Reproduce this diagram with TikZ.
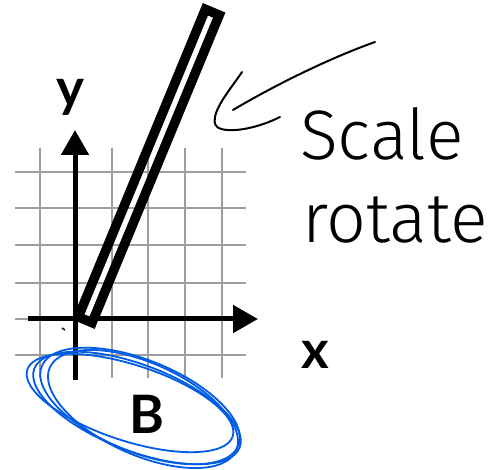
\documentclass[tikz,border=0pt]{standalone}
\usepackage{fontspec}
\usetikzlibrary{arrows.meta}
\newfontfamily\labfont{Lato}
\newfontfamily\handfont{Fira Sans Light}
\begin{document}
\begin{tikzpicture}[x=1pt,y=-1pt,
  gridline/.style={draw=black!38,line width=1.8pt},
  axis/.style={line width=5pt,-{Triangle[length=25pt,width=27pt]}},
  lab/.style={font=\labfont\bfseries\fontsize{53}{53}\selectfont,inner sep=0pt},
  hand/.style={font=\handfont\fontsize{70}{70}\selectfont,inner sep=0pt,anchor=base west},
  scribble/.style={draw=blue!60!cyan!90!black,line width=1.8pt},
  pen/.style={line width=2pt,line cap=round,line join=round}]
\useasboundingbox (0,0) rectangle (498,470);
% grid
\foreach \gx in {40,76,112,148,185,222}
  \draw[gridline] (\gx,148) -- (\gx,378);
\foreach \gy in {172,208,245,283,319,355}
  \draw[gridline] (15,\gy) -- (246,\gy);
% axes
\coordinate (ybot) at (75,380);
\coordinate (ytop) at (75,130);
\coordinate (xleft) at (28,319);
\coordinate (xright) at (258,319);
\draw[axis] (ybot) -- (ytop);
\draw[axis] (xleft) -- (xright);
\draw[line width=1.5pt] (62,328) -- (65,330);
% rotated rectangle
\draw[line width=9.5pt,line join=miter] (78.3,316.9) -- (92.1,322.7) -- (219.2,15.1) -- (205.4,9.3) -- cycle;
% labels
\node[lab] (ylab) at (70,97) {y};
\node[lab] (xlab) at (315,355) {x};
\node[lab] (blab) at (147,414) {B};
% scribbled ellipses
\draw[scribble,rotate around={-18:(130,403)}] (130,403) ellipse [x radius=108pt,y radius=38pt];
\draw[scribble,rotate around={-22:(140,406)}] (140,406) ellipse [x radius=106pt,y radius=46pt];
\draw[scribble,rotate around={-24:(143,409)}] (143,409) ellipse [x radius=102pt,y radius=46pt];
\draw[scribble,rotate around={-21:(137,408)}] (137,408) ellipse [x radius=110pt,y radius=43pt];
% handwritten arrow
\coordinate (shaftstart) at (375,42);
\coordinate (shaftend) at (233,110);
\draw[pen] (shaftstart) .. controls (330,58) and (275,85) .. (shaftend);
\coordinate (hookA) at (242,72);
\coordinate (hookTip) at (215,124);
\coordinate (hookB) at (280,117);
\draw[pen] (hookA) .. controls (230,90) and (212,110) .. (hookTip) .. controls (218,134) and (250,132) .. (hookB);
% handwritten text
\node[hand] (scale) at (300,160) {Scale};
\node[hand] (rotate) at (302,243) {rotate};
\end{tikzpicture}
\end{document}
